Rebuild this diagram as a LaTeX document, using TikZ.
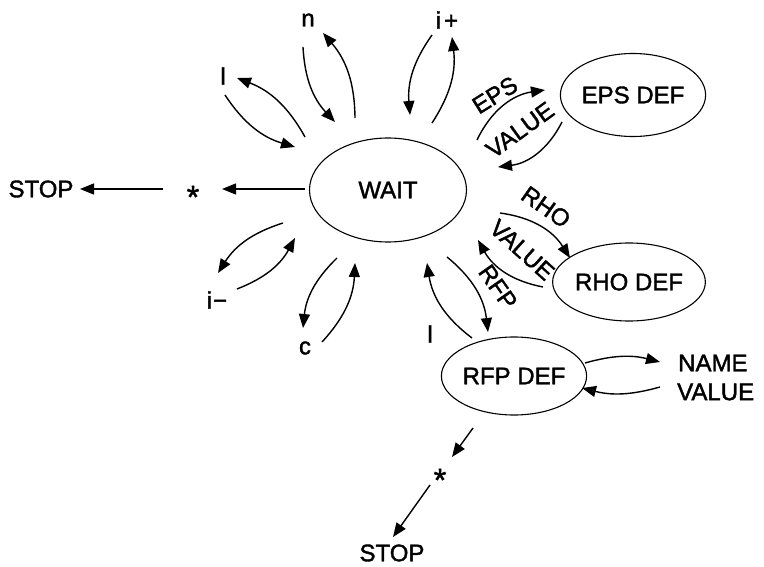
\documentclass[tikz,border=0pt]{standalone}
\usepackage{fontspec}
\setmainfont{Liberation Sans}[FakeBold=1.6]
\usetikzlibrary{arrows.meta,shapes.geometric}

\begin{document}
\begin{tikzpicture}[x=1pt,y=-1pt,
  txt/.style={font=\fontsize{24}{27}\selectfont, inner sep=0pt},
  startxt/.style={font=\fontsize{32}{34}\selectfont, inner sep=0pt, anchor=base},
  state/.style={txt, draw, ellipse, line width=1.1pt},
  arr/.style={-{Triangle[length=14pt,width=11pt]}, line width=1.4pt},
]
\useasboundingbox (0,0) rectangle (764,567);

% states
\node[state, minimum width=157pt, minimum height=104pt] (wait)   at (388,190) {WAIT};
\node[state, minimum width=117pt, minimum height=83pt]  (epsdef) at (633,95)  {EPS DEF};
\node[state, minimum width=120pt, minimum height=78pt]  (rhodef) at (629,282) {RHO DEF};
\node[state, minimum width=122pt, minimum height=78pt]  (rfpdef) at (514,376) {RFP DEF};

% plain labels
\node[txt] (stop1) at (41,189)  {STOP};
\node[startxt] (star1) at (193,208) {*};
\node[txt] (lA)    at (223,76)  {l};
\node[txt] (nA)    at (308,20)  {n};
\node[txt] (ip)    at (447,20)  {i\kern3pt+};
\node[txt] (im)    at (217,300) {i\kern1pt−};
\node[txt] (cA)    at (305,348) {c};
\node[txt] (lB)    at (430,334) {l};
\node[txt, anchor=west] (name)  at (678,363) {NAME};
\node[txt, anchor=west] (value) at (677,392) {VALUE};
\node[startxt] (star2) at (440,491) {*};
\node[txt] (stop2) at (392,553) {STOP};

% rotated edge labels
\node[txt, rotate=32]  (epsl)  at (495,95)  {EPS};
\node[txt, rotate=36]  (epsv)  at (520,130) {VALUE};
\node[txt, rotate=-35] (rhol)  at (546,207) {RHO};
\node[txt, rotate=-42] (rhov)  at (522,250) {VALUE};
\node[txt, rotate=-55] (rfpl)  at (498,287) {RFP};

% connector end points
\coordinate (w1) at (305,189);  \coordinate (s1a) at (222,189);
\coordinate (s1b) at (163,189); \coordinate (st1) at (80,189);

\coordinate (la1) at (225,95);  \coordinate (la2) at (295,147);
\coordinate (lb1) at (305,137); \coordinate (lb2) at (237,78);

\coordinate (na1) at (303,47);  \coordinate (na2) at (335,122);
\coordinate (nb1) at (355,118); \coordinate (nb2) at (323,33);

\coordinate (pa1) at (432,35);  \coordinate (pa2) at (410,115);
\coordinate (pb1) at (432,123); \coordinate (pb2) at (452,37);

\coordinate (ea1) at (477,140); \coordinate (ea2) at (545,90);
\coordinate (eb1) at (562,122); \coordinate (eb2) at (498,167);

\coordinate (ra1) at (500,213); \coordinate (ra2) at (570,258);
\coordinate (rb1) at (543,287); \coordinate (rb2) at (478,240);

\coordinate (fa1) at (472,338); \coordinate (fa2) at (427,263);
\coordinate (fb1) at (447,257); \coordinate (fb2) at (488,332);

\coordinate (ma1) at (283,223); \coordinate (ma2) at (218,273);
\coordinate (mb1) at (237,289); \coordinate (mb2) at (295,238);

\coordinate (ca1) at (337,258); \coordinate (ca2) at (303,328);
\coordinate (cb1) at (322,342); \coordinate (cb2) at (355,263);

\coordinate (va1) at (585,363); \coordinate (va2) at (660,362);
\coordinate (vb1) at (660,387); \coordinate (vb2) at (582,388);

\coordinate (d1) at (473,428);  \coordinate (d2) at (452,457);
\coordinate (d3) at (430,485);  \coordinate (d4) at (393,537);

% connectors
\draw[arr] (w1) -- (s1a);
\draw[arr] (s1b) -- (st1);

\draw[arr] (la1) to[bend right=20] (la2);
\draw[arr] (lb1) to[bend right=20] (lb2);
\draw[arr] (na1) to[bend right=20] (na2);
\draw[arr] (nb1) to[bend right=20] (nb2);
\draw[arr] (pa1) to[bend right=20] (pa2);
\draw[arr] (pb1) to[bend right=20] (pb2);

\draw[arr] (ea1) to[bend left=28] (ea2);
\draw[arr] (eb1) to[bend left=28] (eb2);
\draw[arr] (ra1) to[bend left=25] (ra2);
\draw[arr] (rb1) to[bend left=25] (rb2);
\draw[arr] (fa1) to[bend left=22] (fa2);
\draw[arr] (fb1) to[bend left=22] (fb2);

\draw[arr] (ma1) to[bend right=20] (ma2);
\draw[arr] (mb1) to[bend right=20] (mb2);
\draw[arr] (ca1) to[bend right=20] (ca2);
\draw[arr] (cb1) to[bend right=20] (cb2);

\draw[arr] (va1) to[bend left=15] (va2);
\draw[arr] (vb1) to[bend left=15] (vb2);

\draw[arr] (d1) -- (d2);
\draw[arr] (d3) -- (d4);
\end{tikzpicture}
\end{document}
